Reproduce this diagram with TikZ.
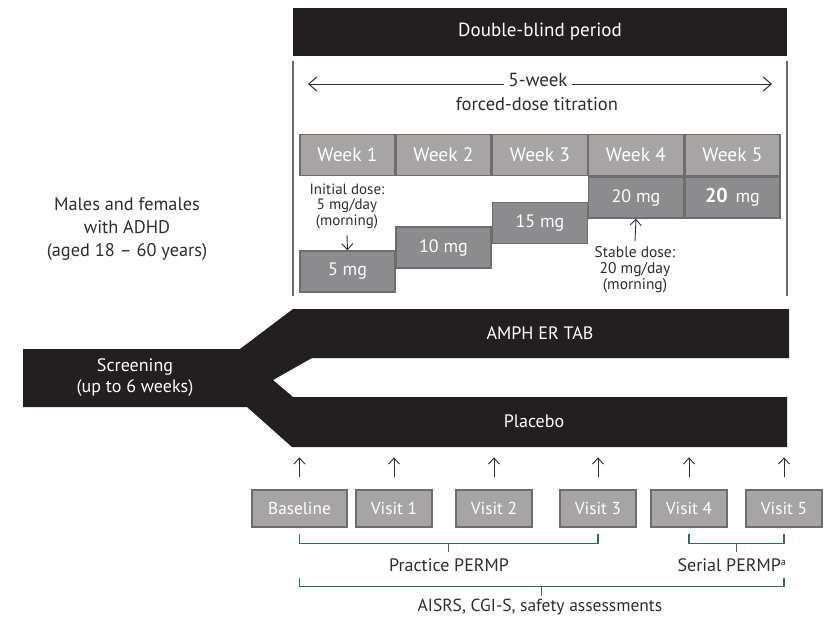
\documentclass[tikz,border=0pt]{standalone}
\usepackage{fontspec}
\setmainfont{PT Sans}
\usetikzlibrary{arrows.meta,calc}

\definecolor{barblack}{HTML}{231F20}
\definecolor{weekgray}{HTML}{A7A5A4}
\definecolor{dosegray}{HTML}{8C8B8D}
\definecolor{edgegray}{HTML}{6E6C6C}
\definecolor{brkteal}{HTML}{2B6D73}
\definecolor{txtgray}{HTML}{2E2C2D}

\tikzset{
  fs/.style 2 args={font=\fontsize{#1}{#2}\selectfont},
  week/.style={draw=edgegray, line width=1.4pt, fill=weekgray, text=white,
    minimum width=95pt, minimum height=41pt, inner sep=0pt, fs={19.5}{23}},
  dose/.style={week, fill=dosegray, fs={18}{22}},
  visit/.style={draw=edgegray, line width=1.2pt, fill=weekgray, text=white,
    minimum width=76pt, minimum height=37pt, inner sep=0pt, fs={17.3}{21}},
  bartext/.style={text=white, fs={18}{21}, align=center},
  note/.style={text=txtgray, align=center},
  up/.style={-{Straight Barb[length=6pt,width=11pt]}, line width=0.9pt, txtgray},
  brk/.style={draw=brkteal, line width=1.2pt}
}

\begin{document}
\begin{tikzpicture}[x=1pt,y=-1pt]
  \useasboundingbox (0,0) rectangle (831,621);

  % double-blind period
  \node[fill=barblack, minimum width=494pt, minimum height=48pt, bartext, fs={19}{22}] (dbp) at (540,32) {Double-blind period};
  \draw[edgegray, line width=1.5pt] (293,61) -- (293,296);
  \draw[edgegray, line width=1.5pt] (787,61) -- (787,296);

  \draw[txtgray, line width=1pt, {Straight Barb[length=8pt,width=14pt]}-{Straight Barb[length=8pt,width=14pt]}] (308,84) -- (772,84);
  \node[note, fill=white, inner sep=4pt, fs={19}{22}] (wk5) at (538,80) {5-week};
  \node[note, fs={18.5}{22}] (fdt) at (537,104) {forced-dose titration};

  % weeks and doses
  \foreach \i/\x in {1/347.5,2/443.5,3/540,4/636,5/732.5}
    \node[week] (w\i) at (\x,155) {Week \i};

  \foreach \i/\x/\y/\t in {1/347.5/271.5/5 mg,2/443.5/247.5/10 mg,3/540/223/15 mg,
                            4/636/197.5/20 mg,5/732.5/197.5/{\textbf{\fontsize{20}{22}\selectfont 20}\, mg}}
    \node[dose] (d\i) at (\x,\y) {\t};

  \node[note, fs={15}{15.5}] (init) at (347,206) {Initial dose:\\5 mg/day\\(morning)};
  \draw[up] ([yshift=-3pt]init.south) -- (d1.north);
  \node[note, fs={15.5}{16}] (stable) at (635,270) {Stable dose:\\20 mg/day\\(morning)};
  \draw[up] ([yshift=2pt]stable.north) -- (d4.south);

  \node[note, fs={18.3}{23}] (ppl) at (127,229) {Males and females\\with ADHD\\(aged 18 -- 60 years)};

  % screening and arms
  \fill[barblack] (23,349) -- (240,349) -- (293,309) -- (789,309) -- (789,358)
    -- (312,358) -- (273,380) -- (293,397) -- (787,397) -- (787,447)
    -- (292,447) -- (247,407) -- (23,407) -- cycle;
  \node[bartext] (scr) at (135,378) {Screening\\(up to 6 weeks)};
  \node[bartext] (amph) at (540,333) {AMPH ER TAB};
  \node[bartext] (plc) at (534,421) {Placebo};

  % visits
  \node[visit, minimum width=95pt] (vb) at (299.5,508.5) {Baseline};
  \foreach \i/\x in {1/394,2/494,3/598,4/689,5/784}
    \node[visit] (v\i) at (\x,508.5) {Visit \i};

  \foreach \v in {vb,v1,v2,v3,v4,v5}
    \draw[up] ([yshift=12pt]\v.north) -- ++(0,-20);

  % assessments
  \draw[brk] ([yshift=-6pt]vb.south) |- ([yshift=-16pt]v3.south) -- ([yshift=-6pt]v3.south);
  \draw[brk] ($(vb.south)!.5!(v3.south)+(0,16)$) -- ++(0,8);
  \node[note, fs={18}{22}] (ppm) at (449,565) {Practice PERMP};

  \draw[brk] ([yshift=-6pt]v4.south) |- ([yshift=-16pt]v5.south) -- ([yshift=-6pt]v5.south);
  \draw[brk] ($(v4.south)!.5!(v5.south)+(0,16)$) -- ++(0,8);
  \node[note, fs={18}{22}] (spm) at (732,565) {Serial PERMP\textsuperscript{\fontsize{10}{10}\selectfont a}};

  \draw[brk] ([yshift=-50pt]vb.south) |- ([yshift=-59pt]v5.south) -- ([yshift=-50pt]v5.south);
  \draw[brk] ($(vb.south)!.5!(v5.south)+(0,59)$) -- ++(0,9);
  \node[note, fs={17.5}{22}] (asm) at (540,607) {AISRS, CGI-S, safety assessments};
\end{tikzpicture}
\end{document}
